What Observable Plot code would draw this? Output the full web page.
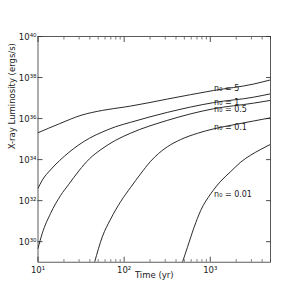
<!DOCTYPE html>
<html>
<head>
<meta charset="utf-8">
<script src="https://cdn.jsdelivr.net/npm/d3@7"></script>
<script src="https://cdn.jsdelivr.net/npm/@observablehq/plot@0.6"></script>
<style>
  html, body { margin: 0; padding: 0; background: white; }
</style>
</head>
<body>
<div id="chart"></div>
<script>
// Values: log10(time / yr) and log10(L_X / erg s^-1)
const logT_n5   = [1, 1.25, 1.5, 1.75, 2, 2.076, 2.5, 3.04, 3.5, 3.703];
const logL_n5   = [35.31, 35.75, 36.16, 36.40, 36.56, 36.61, 36.95, 37.37, 37.68, 37.89];

const logT_n1   = [1, 1.05, 1.145, 1.25, 1.358, 1.474, 1.6, 1.75, 1.9, 2.076, 2.5, 3.04, 3.5, 3.703];
const logL_n1   = [32.6, 33.0, 33.5, 33.95, 34.35, 34.72, 35.05, 35.35, 35.6, 35.82, 36.3, 36.78, 37.04, 37.21];

const logT_n05  = [1, 1.049, 1.145, 1.262, 1.358, 1.474, 1.6, 1.727, 1.9, 2.076, 2.5, 3.04, 3.5, 3.703];
const logL_n05  = [29.67, 30.4, 31.37, 32.25, 32.8, 33.45, 34.05, 34.48, 34.94, 35.29, 35.91, 36.48, 36.75, 36.89];

const logT_n01  = [1.657, 1.746, 1.843, 1.959, 2.076, 2.19, 2.308, 2.4, 2.5, 2.657, 2.85, 3.04, 3.3, 3.5, 3.703];
const logL_n01  = [29.0, 30.23, 31.1, 31.95, 32.65, 33.3, 33.92, 34.3, 34.62, 34.98, 35.28, 35.5, 35.72, 35.88, 36.04];

const logT_n001 = [2.677, 2.735, 2.812, 2.89, 3.006, 3.122, 3.238, 3.354, 3.47, 3.587, 3.703];
const logL_n001 = [29.0, 29.73, 30.7, 31.53, 32.34, 32.95, 33.42, 33.88, 34.22, 34.5, 34.75];

const seriesNames = ["n₀ = 5", "n₀ = 1", "n₀ = 0.5", "n₀ = 0.1", "n₀ = 0.01"];
const seriesLogT = [logT_n5, logT_n1, logT_n05, logT_n01, logT_n001];
const seriesLogL = [logL_n5, logL_n1, logL_n05, logL_n01, logL_n001];

// Annotation anchors (log10 t, log10 L)
const labelLogT = [3.044, 3.044, 3.044, 3.044, 3.044];
const labelLogL = [37.46, 36.77, 36.45, 35.59, 32.30];

const xMajor = [10, 100, 1000];
const xMinor = [20,30,40,50,60,70,80,90,200,300,400,500,600,700,800,900,2000,3000,4000,5000];
const yMajor = [1e30, 1e32, 1e34, 1e36, 1e38, 1e40];

const xLabel = "Time (yr)";
const yLabel = "X-ray Luminosity (ergs/s)";

const rows = [];
seriesNames.forEach((name, i) => {
  seriesLogT[i].forEach((lt, j) => rows.push({n: name, t: 10 ** lt, L: 10 ** seriesLogL[i][j]}));
});
const labels = seriesNames.map((name, i) => ({text: name, t: 10 ** labelLogT[i], L: 10 ** labelLogL[i]}));

const supMap = {"0":"⁰","1":"¹","2":"²","3":"³","4":"⁴","5":"⁵","6":"⁶","7":"⁷","8":"⁸","9":"⁹","-":"⁻"};
const fmt = d => "10" + String(Math.round(Math.log10(d))).split("").map(c => supMap[c]).join("");
const blank = () => "";

const chart = Plot.plot({
  width: 300,
  height: 300,
  marginLeft: 37.5,
  marginRight: 30,
  marginTop: 36,
  marginBottom: 38.3,
  style: {fontFamily: "DejaVu Sans", background: "white", color: "#222"},
  x: {type: "log", domain: [10, 5000]},
  y: {type: "log", domain: [1e29, 1e40]},
  marks: [
    Plot.line(rows, {x: "t", y: "L", z: "n", stroke: "#2a2a2a", strokeWidth: 1, curve: "monotone-x", clip: true}),
    Plot.text(labels, {x: "t", y: "L", text: "text", textAnchor: "start", fontSize: 8, fill: "#222"}),
    // tick labels
    Plot.axisX({anchor: "bottom", ticks: xMajor, tickSize: 0, tickPadding: 5, tickFormat: fmt, fontSize: 8.5, label: null}),
    Plot.axisY({anchor: "left", ticks: yMajor, tickSize: 0, tickPadding: 1.5, tickFormat: fmt, fontSize: 8.5, dy: 1, label: null}),
    // inward ticks
    Plot.axisX({anchor: "bottom", ticks: xMajor, tickSize: -5, tickFormat: blank, label: null, strokeWidth: 0.8}),
    Plot.axisX({anchor: "bottom", ticks: xMinor, tickSize: -2.5, tickFormat: blank, label: null, strokeWidth: 0.6}),
    Plot.axisX({anchor: "top", ticks: xMajor, tickSize: -5, tickFormat: blank, label: null, strokeWidth: 0.8}),
    Plot.axisX({anchor: "top", ticks: xMinor, tickSize: -2.5, tickFormat: blank, label: null, strokeWidth: 0.6}),
    Plot.axisY({anchor: "left", ticks: yMajor, tickSize: -5, tickFormat: blank, label: null, strokeWidth: 0.8}),
    Plot.axisY({anchor: "right", ticks: yMajor, tickSize: -5, tickFormat: blank, label: null, strokeWidth: 0.8}),
    Plot.frame({stroke: "#333", strokeWidth: 0.8}),
    Plot.text([xLabel], {frameAnchor: "bottom", text: d => d, dy: 16, fontSize: 8.5, fill: "#222"}),
    Plot.text([yLabel], {frameAnchor: "left", text: d => d, dx: -26, rotate: -90, fontSize: 8.5, fill: "#222"})
  ]
});
document.getElementById("chart").appendChild(chart);
</script>
</body>
</html>
